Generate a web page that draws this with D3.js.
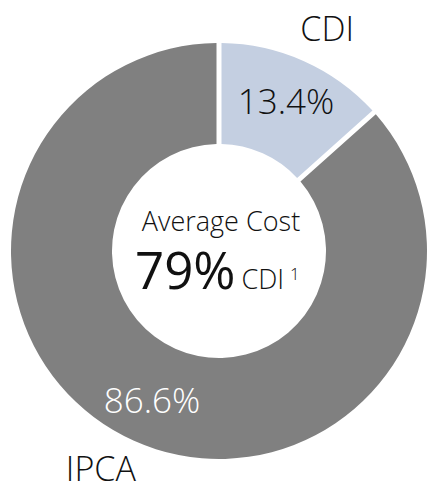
<!DOCTYPE html>
<html>
<head>
<meta charset="utf-8">
<script src="https://cdn.jsdelivr.net/npm/d3@7"></script>
<style>
  html, body { margin: 0; padding: 0; background: #fff; }
  svg { display: block; }
  text { font-family: "Open Sans", "Noto Sans", sans-serif; font-weight: 300; }
</style>
</head>
<body>
<svg id="chart" width="427" height="492"></svg>
<script>
// Funding cost breakdown by index
const categories = ["CDI", "IPCA"];
const shares = [13.4, 86.6];
const sliceColors = ["#c4cfe1", "#808080"];
const valueColors = ["#111111", "#ffffff"];
const averageCost = 79;
const averageUnit = "CDI";

const width = 427, height = 492;
const cx = 219, cy = 251;
const outerR = 208, innerR = 107;

const svg = d3.select("#chart");
const g = svg.append("g").attr("transform", `translate(${cx},${cy})`);

const pie = d3.pie().sort(null).value(d => d.value);
const arcs = pie(categories.map((c, i) => ({ name: c, value: shares[i], i })));

const arc = d3.arc()
  .innerRadius(innerR)
  .outerRadius(outerR)
  .padRadius(100)
  .padAngle(0.05);

g.selectAll("path.slice")
  .data(arcs)
  .join("path")
  .attr("class", "slice")
  .attr("d", arc)
  .attr("fill", d => sliceColors[d.data.i]);

// value labels inside the ring
const valueArc = d3.arc().innerRadius(164).outerRadius(164);
g.selectAll("text.value")
  .data(arcs)
  .join("text")
  .attr("class", "value")
  .attr("transform", d => `translate(${valueArc.centroid(d)})`)
  .attr("text-anchor", "middle")
  .attr("dy", "0.36em")
  .attr("font-size", 35)
  .attr("fill", d => valueColors[d.data.i])
  .text(d => d.data.value.toFixed(1) + "%");

// category names outside the ring
const nameArc = d3.arc().innerRadius(250).outerRadius(250);
const nameShift = [[6, 6], [-16, -10]];
g.selectAll("text.name")
  .data(arcs)
  .join("text")
  .attr("class", "name")
  .attr("transform", d => {
    const [x, y] = nameArc.centroid(d);
    const [sx, sy] = nameShift[d.data.i];
    return `translate(${x + sx},${y + sy})`;
  })
  .attr("text-anchor", "middle")
  .attr("dy", "0.36em")
  .attr("font-size", 34)
  .attr("fill", "#111")
  .text(d => d.data.name);

// center annotation
g.append("text")
  .attr("x", 2)
  .attr("y", -20)
  .attr("text-anchor", "middle")
  .attr("font-size", 27)
  .attr("fill", "#111")
  .text("Average Cost");

const big = g.append("text")
  .attr("x", -84)
  .attr("y", 38)
  .attr("fill", "#111");
big.append("tspan")
  .attr("font-size", 51)
  .attr("font-weight", 400)
  .text(averageCost + "%");
big.append("tspan")
  .attr("font-size", 27)
  .attr("dx", 6)
  .text(averageUnit);
big.append("tspan")
  .attr("font-size", 17)
  .attr("dx", 6)
  .attr("dy", -9)
  .text("1");
</script>
</body>
</html>
